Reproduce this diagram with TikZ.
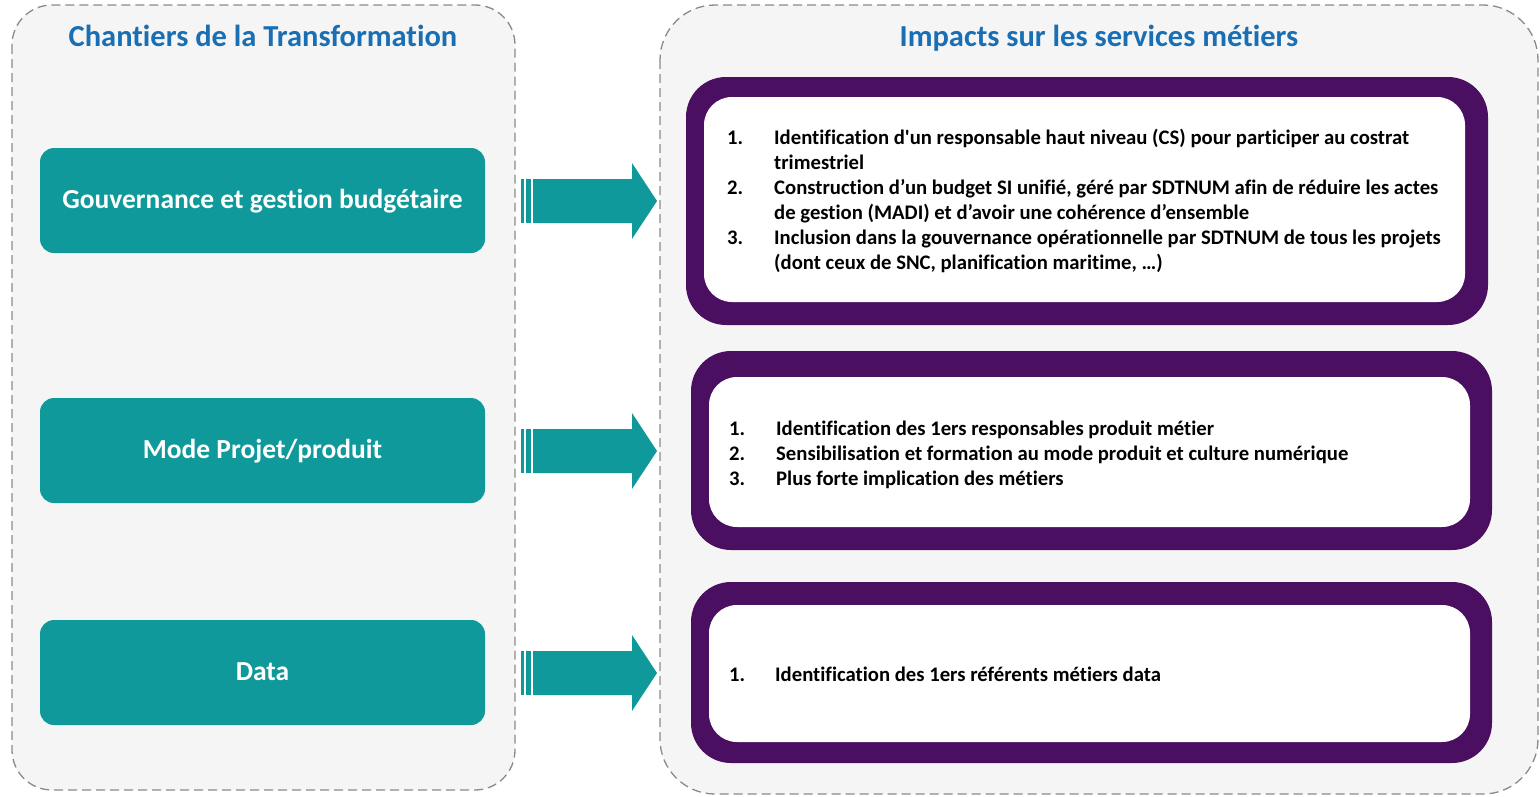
\documentclass[tikz,border=0pt]{standalone}
\usepackage{fontspec}
\setmainfont{Carlito}[Ligatures=NoCommon]
\usetikzlibrary{positioning}
\definecolor{titleblue}{HTML}{1A6FB4}
\definecolor{tealbox}{HTML}{0F999B}
\definecolor{purpleframe}{HTML}{4A0F60}
\definecolor{panelgray}{HTML}{F5F5F5}
\definecolor{dashgray}{HTML}{8A8A8A}

\begin{document}
\begin{tikzpicture}[x=1pt,y=-1pt]
\tikzstyle{panel}=[draw=dashgray, fill=panelgray, line width=1.3pt, dash pattern=on 9pt off 5pt]
\tikzstyle{title}=[anchor=base, text=titleblue, font=\fontsize{30.5}{34}\selectfont\bfseries]
\tikzstyle{chantier}=[fill=tealbox, rounded corners=14pt, minimum width=445pt, minimum height=105pt, inner sep=0pt, text=white, text height=19pt, text depth=3pt, font=\fontsize{27.5}{32}\selectfont\bfseries]
\tikzstyle{frame}=[fill=purpleframe, rounded corners=40pt, inner sep=0pt]
\tikzstyle{inner}=[fill=white, rounded corners=28pt, inner sep=0pt]
\tikzstyle{num}=[anchor=base west, inner sep=0pt, font=\fontsize{20.7}{25}\selectfont\bfseries]
\tikzstyle{item}=[anchor=base west, align=left, inner sep=0pt, font=\fontsize{20.7}{25}\selectfont\bfseries]

\useasboundingbox (0,0) rectangle (1540,796);

% panels
\draw[panel, rounded corners=40pt] (12,5) rectangle (515,790);
\draw[panel, rounded corners=55pt] (660,5) rectangle (1538,794);
\node[title] (ttl1) at (263,46) {Chantiers de la Transformation};
\node[title] (ttl2) at (1099,46) {Impacts sur les services métiers};

% chantiers
\node[chantier] (gouv) at (262.5,200.5) {Gouvernance et gestion budgétaire};
\node[chantier] (projet) at (262.5,450.5) {Mode Projet/produit};
\node[chantier] (data) at (262.5,672.5) {Data};

% impacts
\node[frame, minimum width=802pt, minimum height=248pt] (imp1) at (1087,201) {};
\node[inner, minimum width=761pt, minimum height=205pt] (txt1) at (1084.5,199.5) {};
\node[frame, minimum width=801pt, minimum height=199pt] (imp2) at (1091.5,450.5) {};
\node[inner, minimum width=761pt, minimum height=150pt] (txt2) at (1089.5,452) {};
\node[frame, minimum width=801pt, minimum height=181pt] (imp3) at (1091.5,672.5) {};
\node[inner, minimum width=761pt, minimum height=137pt] (txt3) at (1089.5,673.5) {};

% arrows
\foreach \y in {201,451,673} {
  \fill[tealbox] (521,\y-22) rectangle (524,\y+22);
  \fill[tealbox] (526,\y-22) rectangle (531,\y+22);
  \fill[tealbox] (533,\y-22) -- (632,\y-22) -- (632,\y-38) -- (657,\y)
    -- (632,\y+38) -- (632,\y+22) -- (533,\y+22) -- cycle;
}

% lists (base of a two-line node is its last line)
\node[num] (n11) at (727,144) {1.};
\node[item] (i11) at (774,169) {Identification d\textquotesingle un responsable haut niveau (CS) pour participer au costrat\\trimestriel};
\node[num] (n12) at (727,194) {2.};
\node[item] (i12) at (774,219) {Construction d’un budget SI unifié, géré par SDTNUM afin de réduire les actes\\de gestion (MADI) et d’avoir une cohérence d’ensemble};
\node[num] (n13) at (727,244) {3.};
\node[item] (i13) at (774,269) {Inclusion dans la gouvernance opérationnelle par SDTNUM de tous les projets\\(dont ceux de SNC, planification maritime, …)};

\node[num] (n21) at (729,435) {1.};
\node[item] (i21) at (776,435) {Identification des 1ers responsables produit métier};
\node[num] (n22) at (729,460) {2.};
\node[item] (i22) at (776,460) {Sensibilisation et formation au mode produit et culture numérique};
\node[num] (n23) at (729,485) {3.};
\node[item] (i23) at (776,485) {Plus forte implication des métiers};

\node[num] (n31) at (729,681) {1.};
\node[item] (i31) at (775,681) {Identification des 1ers référents métiers data};
\end{tikzpicture}
\end{document}
